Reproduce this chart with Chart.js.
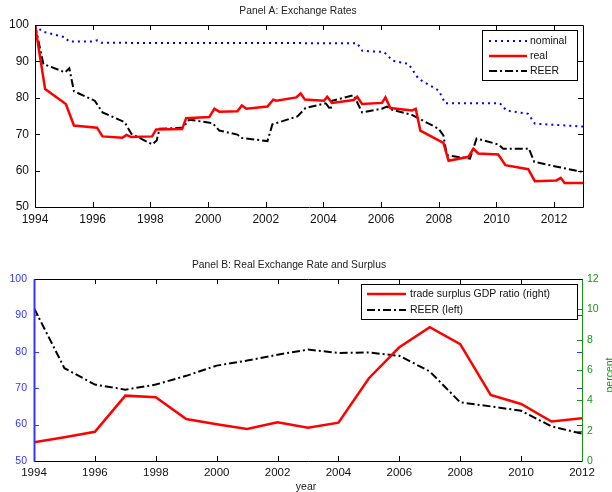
<!DOCTYPE html>
<html>
<head>
<meta charset="utf-8">
<script src="https://cdn.jsdelivr.net/npm/chart.js@4.4.1/dist/chart.umd.min.js"></script>
<style>
  body { margin: 0; background: #fff; }
  .panel { position: absolute; left: 0; width: 612px; height: 246px; }
  #panelA { top: 0; }
  #panelB { top: 246px; }
</style>
</head>
<body>
<div class="panel" id="panelA"><canvas id="chartA"></canvas></div>
<div class="panel" id="panelB"><canvas id="chartB"></canvas></div>
<script>
// Panel A: exchange rates (index, 1994 = 100)
const nominalX = [1994.0, 1994.25, 1995.05, 1995.17, 1996.05, 1996.15, 1996.3, 2005.17, 2005.35, 2006.1, 2006.4, 2006.95, 2007.3, 2008.0, 2008.22, 2010.12, 2010.35, 2011.1, 2011.33, 2013.0];
const nominalY = [100, 98.2, 96.6, 95.5, 95.5, 95.8, 95.1, 95.0, 92.9, 92.6, 90.2, 89.3, 85.2, 82.0, 78.5, 78.5, 76.5, 75.6, 72.9, 72.1];

const realX = [1994.0, 1994.35, 1995.07, 1995.35, 1996.15, 1996.34, 1997.03, 1997.17, 1997.34, 1998.06, 1998.2, 1999.1, 1999.24, 2000.04, 2000.22, 2000.39, 2001.02, 2001.17, 2001.33, 2002.06, 2002.26, 2002.37, 2003.06, 2003.21, 2003.36, 2004.02, 2004.13, 2004.3, 2005.05, 2005.17, 2005.34, 2006.03, 2006.15, 2006.32, 2007.07, 2007.2, 2007.36, 2008.16, 2008.34, 2009.03, 2009.2, 2009.37, 2010.06, 2010.31, 2011.1, 2011.33, 2012.08, 2012.23, 2012.36, 2013.0];
const realY = [100, 82.4, 78.3, 72.4, 71.8, 69.4, 69.0, 69.8, 69.2, 69.4, 71.3, 71.4, 74.4, 74.7, 77.0, 76.2, 76.3, 77.9, 77.0, 77.6, 79.5, 79.2, 80.1, 81.2, 79.5, 79.2, 80.3, 78.6, 79.4, 80.3, 78.3, 78.6, 80.1, 77.2, 76.5, 77.0, 71.0, 67.6, 62.7, 63.8, 66.0, 64.7, 64.4, 61.5, 60.4, 57.1, 57.3, 58.0, 56.6, 56.6];

const reerX = [1994.0, 1994.29, 1995.04, 1995.19, 1995.35, 1996.07, 1996.34, 1997.11, 1997.34, 1998.07, 1998.22, 1998.32, 1999.12, 1999.35, 2000.16, 2000.39, 2001.02, 2001.14, 2002.06, 2002.23, 2003.1, 2003.38, 2004.08, 2004.25, 2004.3, 2005.05, 2005.34, 2006.03, 2006.2, 2006.38, 2007.07, 2007.99, 2008.16, 2008.28, 2009.08, 2009.31, 2010.06, 2010.23, 2011.04, 2011.12, 2011.31, 2012.14, 2013.0];
const reerY = [100, 89.3, 87.0, 88.1, 81.8, 79.2, 76.0, 73.3, 70.1, 67.2, 68.3, 71.5, 71.8, 74.0, 73.0, 71.0, 69.9, 69.0, 68.1, 72.7, 74.9, 77.2, 78.5, 76.7, 79.2, 80.7, 76.0, 77.0, 77.6, 76.7, 75.3, 71.5, 69.7, 64.2, 63.3, 68.8, 67.2, 66.0, 66.0, 66.1, 62.4, 61.0, 59.6];

// Panel B: annual REER (left axis) and trade surplus % of GDP (right axis)
const years = [1994, 1995, 1996, 1997, 1998, 1999, 2000, 2001, 2002, 2003, 2004, 2005, 2006, 2007, 2008, 2009, 2010, 2011, 2012];
const reerAnnual = [92.0, 75.5, 71.0, 69.6, 71.0, 73.4, 76.2, 77.6, 79.2, 80.6, 79.7, 79.8, 78.9, 74.6, 66.1, 65.0, 63.8, 59.5, 57.5];
const surplus = [1.23, 1.56, 1.93, 4.31, 4.2, 2.77, 2.42, 2.11, 2.55, 2.2, 2.53, 5.46, 7.5, 8.82, 7.7, 4.36, 3.76, 2.6, 2.82];

// x tick labels (both panels)
const tickYears = [1994, 1996, 1998, 2000, 2002, 2004, 2006, 2008, 2010, 2012];

const FONT = "'Liberation Sans', Arial, sans-serif";
const BLUE_AX = '#3434ff';
const GREEN_AX = '#159615';

function pts(xs, ys) {
    return xs.map(function (x, i) { return { x: x, y: ys[i] }; });
}

// box, inside tick marks, title, custom legend, extra labels
const framePlugin = {
    id: 'frame',
    afterDatasetsDraw(chart, args, opts) {
        const ctx = chart.ctx;
        const a = chart.chartArea;
        const xs = chart.scales.x;
        const tl = 5;
        ctx.save();
        ctx.lineWidth = 1;

        // x ticks bottom and top
        ctx.strokeStyle = '#000';
        xs.ticks.forEach(function (t) {
            const px = Math.round(xs.getPixelForValue(t.value)) + 0.5;
            ctx.beginPath();
            ctx.moveTo(px, a.bottom); ctx.lineTo(px, a.bottom - tl);
            ctx.moveTo(px, a.top); ctx.lineTo(px, a.top + tl);
            ctx.stroke();
        });

        // left axis ticks (both sides)
        const ys = chart.scales.y;
        ctx.strokeStyle = opts.leftColor;
        ys.ticks.forEach(function (t) {
            const py = Math.round(ys.getPixelForValue(t.value)) + 0.5;
            ctx.beginPath();
            ctx.moveTo(a.left, py); ctx.lineTo(a.left + tl, py);
            ctx.moveTo(a.right, py); ctx.lineTo(a.right - tl, py);
            ctx.stroke();
        });
        if (chart.scales.y2) {
            const y2 = chart.scales.y2;
            ctx.strokeStyle = opts.rightColor;
            y2.ticks.forEach(function (t) {
                const py = Math.round(y2.getPixelForValue(t.value)) + 0.5;
                ctx.beginPath();
                ctx.moveTo(a.right, py); ctx.lineTo(a.right - tl, py);
                ctx.stroke();
            });
        }

        // frame
        const L = Math.round(a.left) + 0.5, R = Math.round(a.right) + 0.5;
        const T = Math.round(a.top) + 0.5, B = Math.round(a.bottom) + 0.5;
        ctx.strokeStyle = '#000';
        ctx.beginPath();
        ctx.moveTo(L, T); ctx.lineTo(R, T);
        ctx.moveTo(L, B); ctx.lineTo(R, B);
        ctx.stroke();
        ctx.strokeStyle = opts.rightColor;
        ctx.beginPath(); ctx.moveTo(R, T); ctx.lineTo(R, B); ctx.stroke();
        ctx.strokeStyle = opts.leftColor;
        ctx.lineWidth = opts.leftWidth;
        ctx.beginPath(); ctx.moveTo(L, T); ctx.lineTo(L, B); ctx.stroke();

        // title
        ctx.fillStyle = '#222';
        ctx.font = '10.3px ' + FONT;
        ctx.textAlign = 'center';
        ctx.textBaseline = 'middle';
        ctx.fillText(opts.title, opts.titleX, opts.titleY);

        // legend
        const lg = opts.legend;
        ctx.fillStyle = '#fff';
        ctx.fillRect(lg.x, lg.y, lg.w, lg.h);
        ctx.lineWidth = 1;
        ctx.strokeStyle = '#000';
        ctx.strokeRect(lg.x + 0.5, lg.y + 0.5, lg.w, lg.h);
        ctx.font = lg.size + 'px ' + FONT;
        ctx.textAlign = 'left';
        lg.items.forEach(function (it, i) {
            const ds = chart.data.datasets[it];
            const yy = lg.y + lg.first + i * lg.step;
            ctx.strokeStyle = ds.borderColor;
            ctx.lineWidth = ds.borderWidth;
            ctx.setLineDash(ds.borderDash || []);
            ctx.beginPath();
            ctx.moveTo(lg.x + lg.sx0, yy); ctx.lineTo(lg.x + lg.sx1, yy);
            ctx.stroke();
            ctx.setLineDash([]);
            ctx.fillStyle = '#111';
            ctx.fillText(ds.label, lg.x + lg.tx, yy);
        });

        if (opts.extra) opts.extra(ctx);
        ctx.restore();
    }
};

function yearTicks(size) {
    return {
        padding: 5,
        color: '#111',
        font: { family: FONT, size: size },
        maxRotation: 0,
        autoSkip: false,
        callback: function (v) { return String(v); }
    };
}

function setYearTicks(s) {
    s.ticks = tickYears.map(function (v) { return { value: v }; });
}

// ---- Panel A ----
new Chart(document.getElementById('chartA'), {
    type: 'line',
    data: {
        datasets: [
            { label: 'nominal', data: pts(nominalX, nominalY), borderColor: '#0000ff', borderWidth: 2, borderDash: [2, 4], borderCapStyle: 'butt' },
            { label: 'real', data: pts(realX, realY), borderColor: '#ff0000', borderWidth: 2.5 },
            { label: 'REER', data: pts(reerX, reerY), borderColor: '#000000', borderWidth: 2, borderDash: [8, 3, 2, 3] }
        ]
    },
    options: {
        responsive: true,
        maintainAspectRatio: false,
        animation: false,
        elements: { point: { radius: 0 }, line: { tension: 0 } },
        layout: { padding: { left: 0, right: 29, top: 25, bottom: 0 } },
        plugins: {
            legend: { display: false },
            tooltip: { enabled: false },
            frame: {
                title: 'Panel A: Exchange Rates', titleX: 298, titleY: 11,
                leftColor: '#000', rightColor: '#000', leftWidth: 1,
                legend: { x: 482, y: 30, w: 95, h: 50, size: 10.5, first: 11, step: 15, sx0: 7, sx1: 45, tx: 48, items: [0, 1, 2] }
            }
        },
        scales: {
            x: {
                type: 'linear', min: 1994, max: 2013,
                grid: { display: false, drawTicks: false },
                border: { display: false },
                ticks: yearTicks(12),
                afterBuildTicks: setYearTicks,
                afterFit: function (s) { s.height = 39; }
            },
            y: {
                min: 50, max: 100,
                grid: { display: false, drawTicks: false },
                border: { display: false },
                ticks: { stepSize: 10, padding: 6, color: '#111', font: { family: FONT, size: 12 } },
                afterFit: function (s) { s.width = 35; }
            }
        }
    },
    plugins: [framePlugin]
});

// ---- Panel B ----
new Chart(document.getElementById('chartB'), {
    type: 'line',
    data: {
        datasets: [
            { label: 'trade surplus GDP ratio (right)', data: pts(years, surplus), yAxisID: 'y2', borderColor: '#ff0000', borderWidth: 2.5 },
            { label: 'REER (left)', data: pts(years, reerAnnual), yAxisID: 'y', borderColor: '#000000', borderWidth: 2, borderDash: [8, 3, 2, 3] }
        ]
    },
    options: {
        responsive: true,
        maintainAspectRatio: false,
        animation: false,
        elements: { point: { radius: 0 }, line: { tension: 0 } },
        layout: { padding: { left: 0, right: 0, top: 33, bottom: 0 } },
        plugins: {
            legend: { display: false },
            tooltip: { enabled: false },
            frame: {
                title: 'Panel B: Real Exchange Rate and Surplus', titleX: 289, titleY: 19,
                leftColor: BLUE_AX, rightColor: GREEN_AX, leftWidth: 2,
                legend: { x: 361, y: 38, w: 216, h: 35, size: 10.5, first: 10, step: 16, sx0: 6, sx1: 45, tx: 49, items: [0, 1] },
                extra: function (ctx) {
                    ctx.fillStyle = '#222';
                    ctx.font = '10.5px ' + FONT;
                    ctx.textAlign = 'center';
                    ctx.textBaseline = 'middle';
                    ctx.fillText('year', 306, 241);
                    ctx.save();
                    ctx.translate(605, 129);
                    ctx.rotate(-Math.PI / 2);
                    ctx.fillStyle = GREEN_AX;
                    ctx.textBaseline = 'top';
                    ctx.fillText('percent', 0, 0);
                    ctx.restore();
                }
            }
        },
        scales: {
            x: {
                type: 'linear', min: 1994, max: 2012,
                grid: { display: false, drawTicks: false },
                border: { display: false },
                ticks: yearTicks(11.5),
                afterBuildTicks: setYearTicks,
                afterFit: function (s) { s.height = 31; }
            },
            y: {
                position: 'left', min: 50, max: 100,
                grid: { display: false, drawTicks: false },
                border: { display: false },
                ticks: { stepSize: 10, padding: 7, color: BLUE_AX, font: { family: FONT, size: 10.5 } },
                afterFit: function (s) { s.width = 34; }
            },
            y2: {
                position: 'right', min: 0, max: 12,
                grid: { display: false, drawTicks: false },
                border: { display: false },
                ticks: { stepSize: 2, padding: 5, color: GREEN_AX, font: { family: FONT, size: 10.5 } },
                afterFit: function (s) { s.width = 30; }
            }
        }
    },
    plugins: [framePlugin]
});
</script>
</body>
</html>
